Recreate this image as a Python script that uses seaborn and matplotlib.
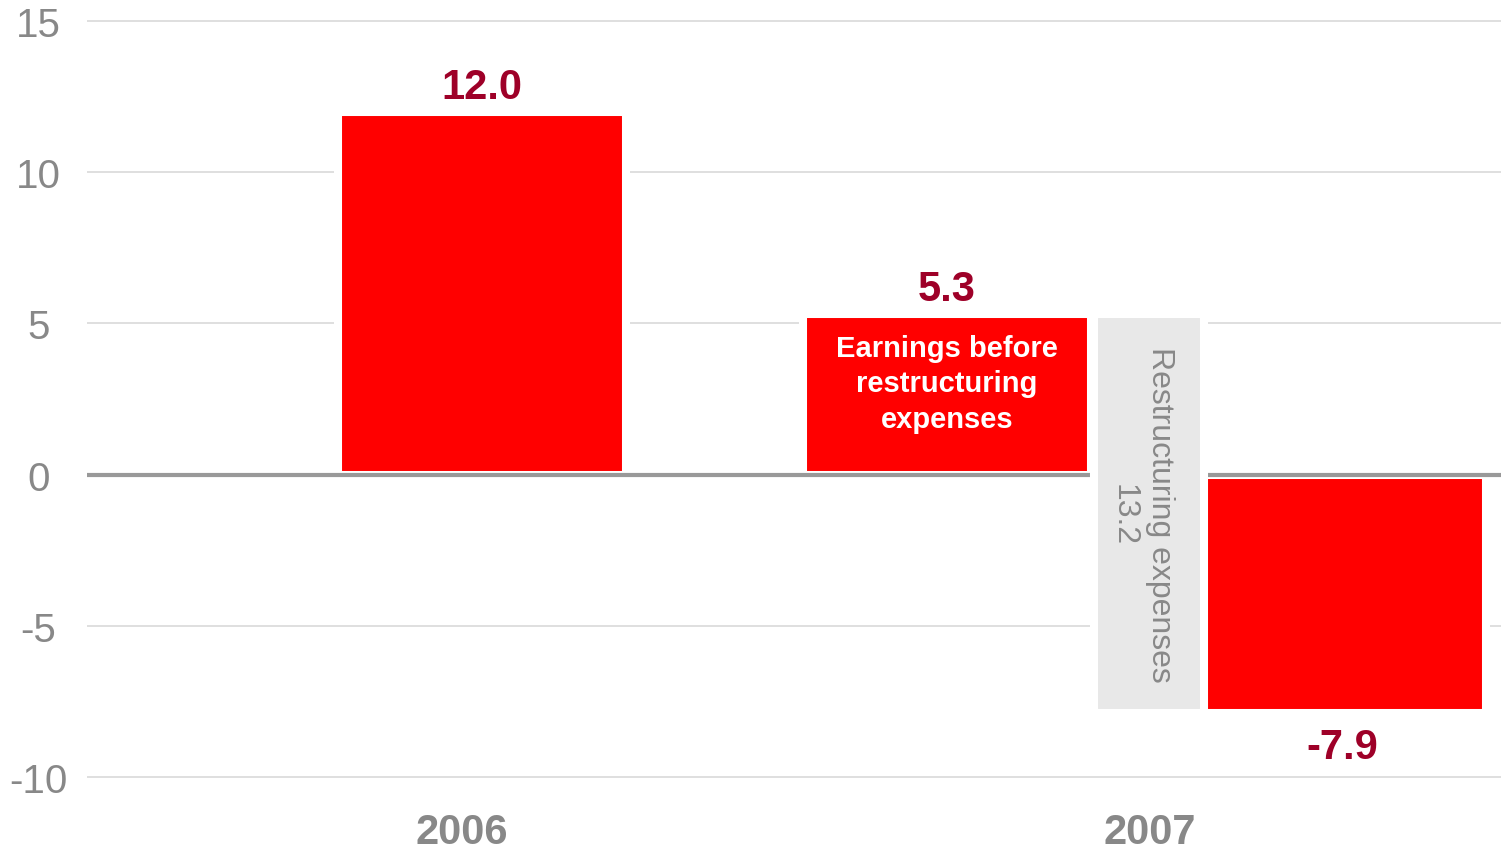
import numpy as np
import pandas as pd
import matplotlib
matplotlib.use("Agg")
import matplotlib.pyplot as plt
import seaborn as sns

# data
bar_labels = ["2006", "Earnings before\nrestructuring\nexpenses", "2007"]
bar_values = [12.0, 5.3, -7.9]
restructuring = 13.2
restructuring_text = "Restructuring expenses"
year_labels = ["2006", "2007"]
y_ticks = [-10, -5, 0, 5, 10, 15]

# layout (x in axis units, 1 unit ~ 100 px)
bar_pos = [3.95, 8.60, 12.55]
rest_pos = 10.62
year_pos = [3.75, 10.63]

RED = "#FF0000"
DARKRED = "#9E0028"
GREY = "#888888"

sns.set_theme(style="white")
plt.rcParams["font.family"] = ["Liberation Sans", "DejaVu Sans"]

fig = plt.figure(figsize=(15.01, 8.54), dpi=100)
ax = fig.add_axes([87 / 1501, 1 - 782.5 / 854, 1414 / 1501, 765 / 854])

df = pd.DataFrame({"pos": bar_pos, "value": bar_values})
sns.barplot(data=df, x="pos", y="value", native_scale=True, width=2.88 / 3.95,
            color=RED, saturation=1, errorbar=None, edgecolor="white",
            linewidth=5.8, zorder=2, ax=ax)

# zero line on top of the red bars
ax.axhline(0, color="#999999", lw=3, zorder=3)

# floating restructuring bar between 5.3 and -7.9
ax.bar(rest_pos, restructuring, bottom=bar_values[2], width=1.10,
       color="#E8E8E8", edgecolor="white", linewidth=5.8, zorder=4)
ax.text(rest_pos - 0.07, bar_values[2] + restructuring / 2,
        restructuring_text + "\n" + f"{restructuring:.1f}",
        rotation=270, ha="center", va="center", multialignment="center",
        fontsize=23, color=GREY, linespacing=1.3, zorder=5)

# value labels
for x, v in zip(bar_pos, bar_values):
    if v >= 0:
        ax.annotate(f"{v:.1f}", (x, v), xytext=(0, 10), textcoords="offset points",
                    ha="center", va="baseline", fontsize=30, fontweight="bold",
                    color=DARKRED)
    else:
        ax.annotate(f"{v:.1f}", (x, v), xytext=(0, -10), textcoords="offset points",
                    ha="center", va="top", fontsize=30, fontweight="bold",
                    color=DARKRED)

# text inside the middle bar
ax.text(bar_pos[1], bar_values[1] * 0.57, bar_labels[1], ha="center", va="center",
        fontsize=21, fontweight="bold", color="white", linespacing=1.35, zorder=5)

ax.set_xlim(0, 14.14)
ax.set_ylim(-10.15, 15.15)
ax.set_yticks(y_ticks)
ax.set_yticklabels([str(t) for t in y_ticks])
ax.set_xticks(year_pos)
ax.set_xticklabels(year_labels)
ax.set_xlabel("")
ax.set_ylabel("")

ax.set_axisbelow(True)
ax.yaxis.grid(True, color="#D9D9D9", lw=1.2)
ax.xaxis.grid(False)
for s in ax.spines.values():
    s.set_visible(False)

ax.tick_params(axis="y", length=0, pad=35, labelsize=29, labelcolor=GREY)
ax.tick_params(axis="x", length=0, pad=22, labelsize=30, labelcolor=GREY)
for lab in ax.get_yticklabels():
    lab.set_ha("center")
for lab in ax.get_xticklabels():
    lab.set_fontweight("bold")

fig.savefig("out.png", dpi=100)
